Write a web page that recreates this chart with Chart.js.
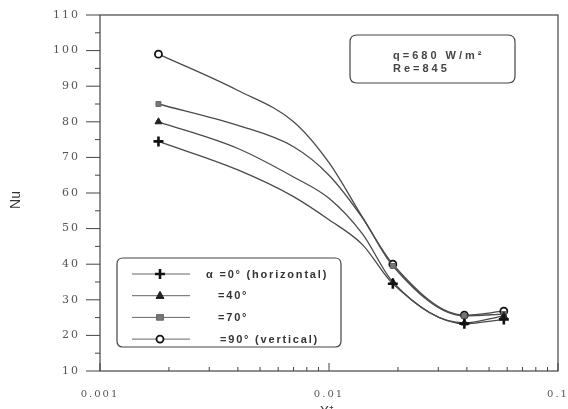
<!DOCTYPE html>
<html>
<head>
<meta charset="utf-8">
<script src="https://cdn.jsdelivr.net/npm/chart.js@4/dist/chart.umd.min.js"></script>
<style>
  html, body { margin: 0; padding: 0; background: #fff; }
  #wrap { width: 568px; height: 409px; }
</style>
</head>
<body>
<div id="wrap"><canvas id="c" width="568" height="409"></canvas></div>
<script>
// Local Nusselt number along the tube for four inclination angles
const xValues = [0.0018, 0.004, 0.007, 0.01, 0.014, 0.019, 0.039, 0.058];
const nu0  = [74.5, 66.5, 59.0, 52.5, 45.5, 34.5, 23.3, 24.5];
const nu40 = [80.0, 72.5, 64.5, 58.5, 48.5, 35.0, 23.5, 25.5];
const nu70 = [85.0, 79.0, 73.0, 65.0, 53.0, 39.5, 25.5, 26.0];
const nu90 = [99.0, 88.8, 80.0, 68.5, 53.2, 40.0, 25.7, 26.8];
// measured stations carry a symbol, the rest only shape the curve
const measured = [true, false, false, false, false, true, true, true];
const seriesLabels = ['\u03b1 =0\u00b0 (horizontal)', '=40\u00b0', '=70\u00b0', '=90\u00b0 (vertical)'];
const yTicks = [10, 20, 30, 40, 50, 60, 70, 80, 90, 100, 110];
const xTicks = [0.001, 0.01, 0.1];
const noteLines = ['q=680 W/m\u00b2', 'Re=845'];

const styles = [
  { pointStyle: 'cross',    color: '#111', fill: '#111', size: 5, border: 2.6 },
  { pointStyle: 'triangle', color: '#222', fill: '#222', size: 4, border: 1 },
  { pointStyle: 'rect',     color: '#666', fill: '#777', size: 3.5, border: 1 },
  { pointStyle: 'circle',   color: '#111', fill: '#fff', size: 3.5, border: 1.8 }
];
const seriesData = [nu0, nu40, nu70, nu90];

const datasets = seriesData.map((vals, i) => ({
  label: seriesLabels[i],
  data: xValues.map((x, k) => ({ x: x, y: vals[k] })),
  borderColor: '#4a4a4a',
  borderWidth: 1.3,
  cubicInterpolationMode: 'monotone',
  pointStyle: styles[i].pointStyle,
  pointRadius: measured.map(m => m ? styles[i].size : 0),
  pointBorderColor: styles[i].color,
  pointBackgroundColor: styles[i].fill,
  pointBorderWidth: styles[i].border,
  fill: false
}));

function drawMarker(ctx, st, x, y) {
  ctx.save();
  ctx.strokeStyle = st.color;
  ctx.fillStyle = st.fill;
  ctx.lineWidth = st.border;
  const r = st.size;
  ctx.beginPath();
  if (st.pointStyle === 'cross') {
    ctx.moveTo(x - r, y); ctx.lineTo(x + r, y);
    ctx.moveTo(x, y - r); ctx.lineTo(x, y + r);
    ctx.stroke();
  } else if (st.pointStyle === 'triangle') {
    ctx.moveTo(x, y - r * 1.1); ctx.lineTo(x + r, y + r * 0.7); ctx.lineTo(x - r, y + r * 0.7);
    ctx.closePath(); ctx.fill(); ctx.stroke();
  } else if (st.pointStyle === 'rect') {
    ctx.rect(x - r, y - r * 0.8, 2 * r, 1.6 * r); ctx.fill(); ctx.stroke();
  } else {
    ctx.arc(x, y, r, 0, Math.PI * 2); ctx.fill(); ctx.stroke();
  }
  ctx.restore();
}

function roundBox(ctx, x, y, w, h, r) {
  ctx.beginPath();
  ctx.moveTo(x + r, y);
  ctx.lineTo(x + w - r, y); ctx.quadraticCurveTo(x + w, y, x + w, y + r);
  ctx.lineTo(x + w, y + h - r); ctx.quadraticCurveTo(x + w, y + h, x + w - r, y + h);
  ctx.lineTo(x + r, y + h); ctx.quadraticCurveTo(x, y + h, x, y + h - r);
  ctx.lineTo(x, y + r); ctx.quadraticCurveTo(x, y, x + r, y);
  ctx.closePath();
}

// Wide-spaced tick numerals: spacing is set before the scales draw and cleared after
const tickSpacing = {
  id: 'tickSpacing',
  beforeDraw(chart) { chart.ctx.letterSpacing = '2px'; },
  beforeDatasetsDraw(chart) { chart.ctx.letterSpacing = '0px'; }
};

// Frame, tick marks, axis titles, legend and annotation box
const decor = {
  id: 'decor',
  afterDatasetsDraw(chart) {
    const ctx = chart.ctx;
    const a = chart.chartArea;
    const xs = chart.scales.x, ys = chart.scales.y;
    ctx.save();
    ctx.strokeStyle = '#444';
    ctx.lineWidth = 1.2;
    ctx.strokeRect(a.left, a.top, a.right - a.left, a.bottom - a.top);

    // y ticks: majors and halves, pointing outward
    ctx.lineWidth = 1;
    for (let v = 10; v <= 110; v += 5) {
      const py = ys.getPixelForValue(v);
      const len = v % 10 === 0 ? 14 : 5;
      ctx.beginPath(); ctx.moveTo(a.left - len, py); ctx.lineTo(a.left, py); ctx.stroke();
    }
    // x ticks: log decades with minor marks, pointing inward
    for (let d = 0.001; d < 0.2; d *= 10) {
      for (let m = 1; m <= 9; m++) {
        const v = d * m;
        if (v > 0.1 + 1e-9) break;
        const px = xs.getPixelForValue(v);
        const len = m === 1 ? 8 : 4;
        ctx.beginPath(); ctx.moveTo(px, a.bottom); ctx.lineTo(px, a.bottom - len); ctx.stroke();
      }
    }

    // axis titles
    ctx.fillStyle = '#333';
    ctx.font = '14px "Liberation Sans", Arial, sans-serif';
    ctx.textAlign = 'center';
    ctx.textBaseline = 'middle';
    ctx.save();
    ctx.translate(16, 200);
    ctx.rotate(-Math.PI / 2);
    ctx.fillText('Nu', 0, 0);
    ctx.restore();
    ctx.fillText('X\u207a', (a.left + a.right) / 2 - 2, 412);

    // legend
    const lg = { x: 117, y: 258, w: 224, h: 89 };
    ctx.strokeStyle = '#444';
    ctx.lineWidth = 1.2;
    roundBox(ctx, lg.x, lg.y, lg.w, lg.h, 6);
    ctx.fillStyle = '#fff';
    ctx.fill();
    ctx.stroke();
    const textX = [206, 218, 218, 220];
    ctx.font = 'bold 11px "Liberation Sans", Arial, sans-serif';
    ctx.letterSpacing = '1.8px';
    ctx.textAlign = 'left';
    chart.data.datasets.forEach((ds, i) => {
      const ry = 274 + i * 21.7;
      ctx.strokeStyle = '#666';
      ctx.lineWidth = 1;
      ctx.beginPath(); ctx.moveTo(132, ry); ctx.lineTo(190, ry); ctx.stroke();
      drawMarker(ctx, styles[i], 160, ry);
      ctx.fillStyle = '#333';
      ctx.fillText(ds.label, textX[i], ry + 0.5);
    });

    // annotation
    ctx.strokeStyle = '#444';
    ctx.lineWidth = 1.2;
    roundBox(ctx, 350, 35, 165, 48, 7);
    ctx.stroke();
    ctx.fillStyle = '#444';
    ctx.font = 'bold 11px "Liberation Sans", Arial, sans-serif';
    ctx.letterSpacing = '3px';
    ctx.fillText(noteLines[0], 393, 56);
    ctx.fillText(noteLines[1], 393, 69);
    ctx.letterSpacing = '0px';
    ctx.restore();
  }
};

new Chart(document.getElementById('c'), {
  type: 'line',
  data: { datasets: datasets },
  plugins: [tickSpacing, decor],
  options: {
    responsive: false,
    animation: false,
    layout: { padding: { top: 15, right: 10, left: 0, bottom: 0 } },
    plugins: { legend: { display: false }, tooltip: { enabled: false } },
    scales: {
      x: {
        type: 'logarithmic',
        min: 0.001, max: 0.1,
        afterBuildTicks: s => { s.ticks = xTicks.map(v => ({ value: v })); },
        afterFit: s => { s.height = 38; s.paddingLeft = 0; s.paddingRight = 0; },
        grid: { display: false, drawTicks: false },
        border: { display: false },
        ticks: {
          padding: 17,
          color: '#555',
          font: { family: '"DejaVu Serif", serif', size: 10 },
          maxRotation: 0, autoSkip: false,
          callback: v => String(v)
        }
      },
      y: {
        type: 'linear',
        min: 10, max: 110,
        afterBuildTicks: s => { s.ticks = yTicks.map(v => ({ value: v })); },
        afterFit: s => { s.width = 100; s.paddingTop = 0; s.paddingBottom = 0; },
        grid: { display: false, drawTicks: false },
        border: { display: false },
        ticks: {
          padding: 20,
          color: '#555',
          font: { family: '"DejaVu Serif", serif', size: 11 },
          callback: v => String(v)
        }
      }
    }
  }
});
</script>
</body>
</html>
